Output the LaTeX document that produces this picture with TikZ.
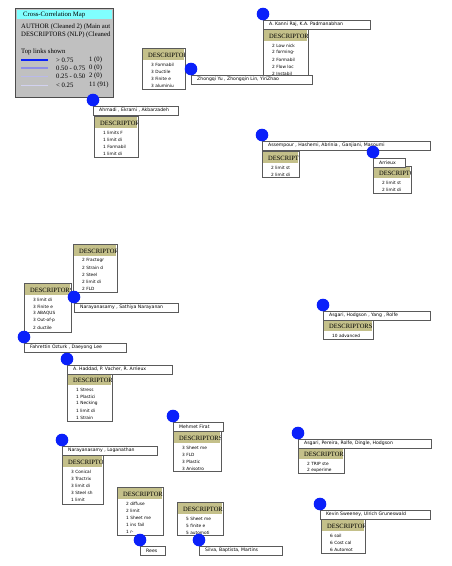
\documentclass[tikz,border=0pt]{standalone}
\usepackage{fontspec}
\setmainfont{Liberation Serif}
\newfontfamily\labelfont{DejaVu Sans}
\usetikzlibrary{calc}
\definecolor{dotblue}{RGB}{10,32,250}
\definecolor{headbg}{RGB}{196,192,138}
\definecolor{boxline}{RGB}{90,90,90}
\definecolor{linkfaint}{RGB}{192,192,245}
\definecolor{legendbg}{RGB}{192,192,192}
\definecolor{titlebg}{RGB}{128,255,255}
\pgfdeclarelayer{links}
\pgfdeclarelayer{dots}
\pgfsetlayers{links,main,dots}
\tikzset{
	dot/.style={circle,fill=dotblue,inner sep=0pt,minimum size=12.6pt},
	authorbox/.style={draw=boxline,line width=0.7pt,fill=white},
	authortext/.style={anchor=west,inner sep=0pt,font=\labelfont\fontsize{4.6}{5}\selectfont},
	desctext/.style={anchor=west,inner sep=0pt,font=\labelfont\fontsize{4.3}{5}\selectfont},
	legtext/.style={anchor=west,inner sep=0pt,font=\fontsize{6.7}{8}\selectfont},
	weak/.style={draw=linkfaint,line width=0.8pt},
	strong/.style={draw=dotblue,line width=2.6pt},
	legstrong/.style={draw=dotblue,line width=2.6pt},
	legmed/.style={draw={rgb,255:red,140;green,140;blue,230},line width=1.6pt},
	leglight/.style={draw={rgb,255:red,185;green,185;blue,235},line width=0.8pt},
	legfaint/.style={draw={rgb,255:red,210;green,210;blue,240},line width=0.6pt},
}
% #1 nom, #2 x, #3 y, #4 bord droit de l'etiquette, #5 auteurs
\newcommand{\Auteur}[5]{%
	\draw[authorbox] (#2,#3+6) rectangle (#4,#3+15);
	\node[authortext] (#1-lab) at (#2+6,#3+10.5) {#5};
	\begin{pgfonlayer}{dots}
		\node[dot] (#1) at (#2,#3) {};
	\end{pgfonlayer}%
}
% #1 nom, #2 x1, #3 y1, #4 x2, #5 y2, #6 liste des descripteurs
\newcommand{\Descripteurs}[6]{%
	\begin{scope}
		\clip (#2,#3) rectangle (#4,#5);
		\fill[white] (#2,#3) rectangle (#4,#5);
		\fill[headbg] (#2+1,#3+1) rectangle (#4-1,#3+12);
		\node[anchor=west,inner sep=0pt,font=\fontsize{6.5}{7}\selectfont] (#1-h) at (#2+6,#3+7) {DESCRIPTORS};
		\foreach \ligne [count=\i] in {#6}
			\node[desctext] (#1-\i) at (#2+9,#3+9.5+7*\i) {\ligne};
	\end{scope}
	\draw[draw=boxline,line width=0.7pt] (#2,#3) rectangle (#4,#5);%
}

\begin{document}
\begin{tikzpicture}[x=1pt,y=-1pt]
	\useasboundingbox[fill=white] (0,0) rectangle (452,566);
	
	% legende
	\fill[legendbg,draw=gray!60!black,line width=0.6pt] (15,8) rectangle (113,97);
	\begin{scope}
		\clip (16,9) rectangle (112,96);
		\fill[titlebg] (17,10) rectangle (112,19);
		\node[legtext] (titre) at (23,14.5) {Cross-Correlation Map};
		\node[legtext] (src1) at (21,27) {AUTHOR (Cleaned 2) (Main aut};
		\node[legtext] (src2) at (21,34.5) {DESCRIPTORS (NLP) (Cleaned};
		\node[legtext] (top) at (21,52) {Top links shown};
		\foreach \yy/\seuil/\nb/\sty [count=\k] in {60/> 0.75/1 (0)/legstrong, 68/0.50 - 0.75/0 (0)/legmed, 76/0.25 - 0.50/2 (0)/leglight, 85/< 0.25/11 (91)/legfaint}{
			\draw[\sty] (21,\yy) -- (48,\yy);
			\node[legtext] (seuil\k) at (56,\yy) {\seuil};
			\node[legtext] (nb\k) at (89,\yy) {\nb};
		}
	\end{scope}
	
	% --- auteurs ---
	\Descripteurs{ahmadi}{94}{116}{138}{157}{1 limits F,1 limit di,1 Formabil,1 limit di}
	\Auteur{ahmadi}{93}{100}{178}{Ahmadi , Ekrami , Akbarzadeh}
	
	\Descripteurs{zhongqi}{142}{48}{185}{89}{3 Formabil,3 Ductile,3 Finite e,3 aluminiu}
	\Descripteurs{kanni}{263}{29}{308}{78}{2 Low nick,2 forming-,2 Formabil,2 Flow loc,2 Instabil}
	\Auteur{kanni}{263}{14}{370}{A. Kanni Raj, K.A. Padmanabhan}
	\Auteur{zhongqi}{191}{69}{312}{Zhongqi Yu , Zhongqin Lin, YiriZhao}
	
	\Descripteurs{assempour}{262}{151}{299}{177}{2 limit st,2 limit di}
	\Auteur{assempour}{262}{135}{430}{Assempour , Hashemi, Abrinia , Ganjiani, Masoumi}
	\Descripteurs{arrieux}{373}{166}{411}{193}{2 limit st,2 limit di}
	\Auteur{arrieux}{373}{152}{405}{Arrieux}
	
	\Descripteurs{sathiya}{73}{244}{117}{292}{2 Fractogr,2 Strain d,2 Steel,2 limit di,2 FLD}
	\Auteur{sathiya}{74}{297}{178}{Narayanasamy , Sathiya Narayanan}
	\Descripteurs{ozturk}{24}{283}{71}{332}{3 limit di,3 Finite e,3 ABAQUS,3 Out-of-p,2 ductile}
	\Auteur{ozturk}{24}{337}{126}{Fahrettin Ozturk , Daeyong Lee}
	
	\Descripteurs{asgariyang}{323}{319}{373}{339}{10 advanced}
	\Auteur{asgariyang}{323}{305}{430}{Asgari, Hodgson , Yang , Rolfe}
	
	\Descripteurs{haddad}{67}{373}{112}{421}{1 Stress,1 Plastici,1 Necking,1 limit di,1 Strain}
	\Auteur{haddad}{67}{359}{172}{A. Haddad, P. Vacher, R. Arrieux}
	\Descripteurs{loganathan}{62}{455}{103}{504}{3 Conical,3 Tractrix,3 limit di,3 Steel sh,1 limit}
	\Auteur{loganathan}{62}{440}{157}{Narayanasamy , Loganathan}
	\Descripteurs{firat}{173}{431}{221}{471}{3 Sheet me,3 FLD,3 Plastic,3 Anisotro}
	\Auteur{firat}{173}{416}{223}{Mehmet Firat}
	
	\Descripteurs{asgaripereira}{298}{447}{344}{473}{2 TRIP ste,2 experime}
	\Auteur{asgaripereira}{298}{433}{431}{Asgari, Pereira, Rolfe, Dingle, Hodgson}
	\Descripteurs{sweeney}{321}{519}{365}{553}{6 soil,6 Cost cal,6 Automot}
	\Auteur{sweeney}{320}{504}{430}{Kevin Sweeney, Ulrich Gruneswald}
	
	\Descripteurs{rees}{117}{487}{163}{535}{2 diffuse,2 limit,1 Sheet me,1 ins fail,1 r-}
	\Auteur{rees}{140}{540}{165}{Rees}
	\Descripteurs{silva}{177}{502}{223}{535}{5 Sheet me,5 finite e,5 automoti}
	\Auteur{silva}{199}{540}{282}{Silva, Baptista, Martins}
	
	% --- liens ---
	\begin{pgfonlayer}{links}
		\draw[strong] (assempour) -- (arrieux);
		\draw[weak] (ahmadi) -- (zhongqi);
		\draw[weak] (ahmadi) -- (sathiya);
		\draw[weak] (sathiya) -- (firat);
		\draw[weak] (sathiya) -- (haddad);
		\draw[weak] (ozturk) -- (loganathan);
		\draw[weak] (haddad) -- (loganathan);
		\draw[weak] (haddad) -- (firat);
		\draw[weak] (firat) -- (silva);
		\draw[weak] (rees) -- (silva);
		\draw[weak] (loganathan) -- (rees);
	\end{pgfonlayer}
	
\end{tikzpicture}
\end{document}
